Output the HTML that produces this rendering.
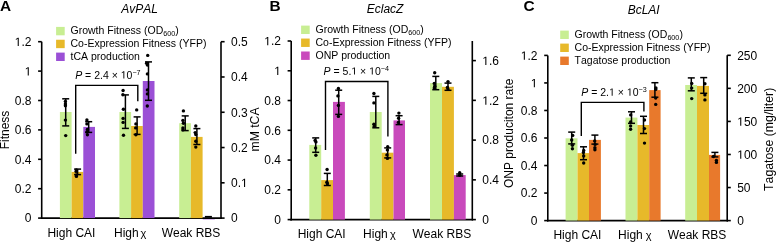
<!DOCTYPE html>
<html><head><meta charset="utf-8"><style>
html,body{margin:0;padding:0;background:#fff;}
svg{display:block;will-change:transform;}
text{font-family:"Liberation Sans",sans-serif;fill:#000;font-kerning:none;}
.one{fill-opacity:0;}
</style></head><body>
<svg width="776" height="242" viewBox="0 0 776 242">
<rect width="776" height="242" fill="#fff"/>
<line x1="41.70" y1="41.70" x2="41.70" y2="218.90" stroke="#000" stroke-width="1.6"/>
<rect x="202.8" y="218.6" width="12" height="1.2" fill="#9b50d6" opacity="0.45"/>
<line x1="221.00" y1="41.70" x2="221.00" y2="218.90" stroke="#000" stroke-width="1.6"/>
<line x1="40.90" y1="218.10" x2="221.80" y2="218.10" stroke="#000" stroke-width="1.6"/>
<line x1="38.10" y1="218.10" x2="41.70" y2="218.10" stroke="#000" stroke-width="1.6"/>
<text x="31.40" y="222.40" font-size="12" text-anchor="end" >0</text>
<line x1="38.10" y1="188.70" x2="41.70" y2="188.70" stroke="#000" stroke-width="1.6"/>
<text x="31.40" y="193.00" font-size="12" text-anchor="end" >0.2</text>
<line x1="38.10" y1="159.30" x2="41.70" y2="159.30" stroke="#000" stroke-width="1.6"/>
<text x="31.40" y="163.60" font-size="12" text-anchor="end" >0.4</text>
<line x1="38.10" y1="129.90" x2="41.70" y2="129.90" stroke="#000" stroke-width="1.6"/>
<text x="31.40" y="134.20" font-size="12" text-anchor="end" >0.6</text>
<line x1="38.10" y1="100.50" x2="41.70" y2="100.50" stroke="#000" stroke-width="1.6"/>
<text x="31.40" y="104.80" font-size="12" text-anchor="end" >0.8</text>
<line x1="38.10" y1="71.10" x2="41.70" y2="71.10" stroke="#000" stroke-width="1.6"/>
<text x="31.40" y="75.40" font-size="12" text-anchor="end" ><tspan class="one">1</tspan></text>
<line x1="38.10" y1="41.70" x2="41.70" y2="41.70" stroke="#000" stroke-width="1.6"/>
<text x="31.40" y="46.00" font-size="12" text-anchor="end" ><tspan class="one">1</tspan>.2</text>
<line x1="221.00" y1="218.10" x2="224.60" y2="218.10" stroke="#000" stroke-width="1.6"/>
<text x="231.00" y="222.40" font-size="12" text-anchor="start" >0</text>
<line x1="221.00" y1="182.82" x2="224.60" y2="182.82" stroke="#000" stroke-width="1.6"/>
<text x="231.00" y="187.12" font-size="12" text-anchor="start" >0.<tspan class="one">1</tspan></text>
<line x1="221.00" y1="147.54" x2="224.60" y2="147.54" stroke="#000" stroke-width="1.6"/>
<text x="231.00" y="151.84" font-size="12" text-anchor="start" >0.2</text>
<line x1="221.00" y1="112.26" x2="224.60" y2="112.26" stroke="#000" stroke-width="1.6"/>
<text x="231.00" y="116.56" font-size="12" text-anchor="start" >0.3</text>
<line x1="221.00" y1="76.98" x2="224.60" y2="76.98" stroke="#000" stroke-width="1.6"/>
<text x="231.00" y="81.28" font-size="12" text-anchor="start" >0.4</text>
<line x1="221.00" y1="41.70" x2="224.60" y2="41.70" stroke="#000" stroke-width="1.6"/>
<text x="231.00" y="46.00" font-size="12" text-anchor="start" >0.5</text>
<rect x="59.90" y="112.00" width="11.70" height="106.10" fill="#c8ee93"/>
<rect x="71.60" y="171.90" width="11.70" height="46.20" fill="#e7b92a"/>
<rect x="83.30" y="126.90" width="11.70" height="91.20" fill="#9b50d6"/>
<rect x="119.40" y="112.00" width="11.70" height="106.10" fill="#c8ee93"/>
<rect x="131.10" y="126.00" width="11.70" height="92.10" fill="#e7b92a"/>
<rect x="142.80" y="81.00" width="11.70" height="137.10" fill="#9b50d6"/>
<rect x="179.20" y="123.20" width="11.70" height="94.90" fill="#c8ee93"/>
<rect x="190.90" y="136.90" width="11.70" height="81.20" fill="#e7b92a"/>
<rect x="202.60" y="218.10" width="11.70" height="0.00" fill="#9b50d6"/>
<line x1="65.70" y1="98.80" x2="65.70" y2="125.90" stroke="#000" stroke-width="1.5"/>
<line x1="62.20" y1="98.80" x2="69.20" y2="98.80" stroke="#000" stroke-width="1.5"/>
<line x1="62.20" y1="125.90" x2="69.20" y2="125.90" stroke="#000" stroke-width="1.5"/>
<line x1="77.60" y1="169.10" x2="77.60" y2="174.60" stroke="#000" stroke-width="1.5"/>
<line x1="74.10" y1="169.10" x2="81.10" y2="169.10" stroke="#000" stroke-width="1.5"/>
<line x1="74.10" y1="174.60" x2="81.10" y2="174.60" stroke="#000" stroke-width="1.5"/>
<line x1="88.70" y1="121.70" x2="88.70" y2="132.40" stroke="#000" stroke-width="1.5"/>
<line x1="85.20" y1="121.70" x2="92.20" y2="121.70" stroke="#000" stroke-width="1.5"/>
<line x1="85.20" y1="132.40" x2="92.20" y2="132.40" stroke="#000" stroke-width="1.5"/>
<line x1="125.40" y1="94.90" x2="125.40" y2="128.40" stroke="#000" stroke-width="1.5"/>
<line x1="121.90" y1="94.90" x2="128.90" y2="94.90" stroke="#000" stroke-width="1.5"/>
<line x1="121.90" y1="128.40" x2="128.90" y2="128.40" stroke="#000" stroke-width="1.5"/>
<line x1="137.10" y1="116.90" x2="137.10" y2="134.40" stroke="#000" stroke-width="1.5"/>
<line x1="133.60" y1="116.90" x2="140.60" y2="116.90" stroke="#000" stroke-width="1.5"/>
<line x1="133.60" y1="134.40" x2="140.60" y2="134.40" stroke="#000" stroke-width="1.5"/>
<line x1="148.50" y1="61.90" x2="148.50" y2="100.30" stroke="#000" stroke-width="1.5"/>
<line x1="145.00" y1="61.90" x2="152.00" y2="61.90" stroke="#000" stroke-width="1.5"/>
<line x1="145.00" y1="100.30" x2="152.00" y2="100.30" stroke="#000" stroke-width="1.5"/>
<line x1="185.20" y1="115.90" x2="185.20" y2="130.60" stroke="#000" stroke-width="1.5"/>
<line x1="181.70" y1="115.90" x2="188.70" y2="115.90" stroke="#000" stroke-width="1.5"/>
<line x1="181.70" y1="130.60" x2="188.70" y2="130.60" stroke="#000" stroke-width="1.5"/>
<line x1="196.90" y1="128.60" x2="196.90" y2="144.50" stroke="#000" stroke-width="1.5"/>
<line x1="193.40" y1="128.60" x2="200.40" y2="128.60" stroke="#000" stroke-width="1.5"/>
<line x1="193.40" y1="144.50" x2="200.40" y2="144.50" stroke="#000" stroke-width="1.5"/>
<circle cx="65.40" cy="101.40" r="1.7" fill="#000"/>
<circle cx="65.40" cy="103.90" r="1.7" fill="#000"/>
<circle cx="65.40" cy="105.70" r="1.7" fill="#000"/>
<circle cx="65.40" cy="120.10" r="1.7" fill="#000"/>
<circle cx="65.70" cy="135.60" r="1.7" fill="#000"/>
<circle cx="76.40" cy="169.90" r="1.7" fill="#000"/>
<circle cx="76.10" cy="171.40" r="1.7" fill="#000"/>
<circle cx="76.40" cy="174.90" r="1.7" fill="#000"/>
<circle cx="76.40" cy="176.40" r="1.7" fill="#000"/>
<circle cx="86.90" cy="120.00" r="1.7" fill="#000"/>
<circle cx="86.90" cy="123.90" r="1.7" fill="#000"/>
<circle cx="87.40" cy="129.40" r="1.7" fill="#000"/>
<circle cx="86.90" cy="131.90" r="1.7" fill="#000"/>
<circle cx="87.40" cy="134.80" r="1.7" fill="#000"/>
<circle cx="123.10" cy="90.50" r="1.7" fill="#000"/>
<circle cx="122.90" cy="94.70" r="1.7" fill="#000"/>
<circle cx="123.40" cy="109.30" r="1.7" fill="#000"/>
<circle cx="123.10" cy="118.40" r="1.7" fill="#000"/>
<circle cx="123.10" cy="122.40" r="1.7" fill="#000"/>
<circle cx="123.50" cy="135.20" r="1.7" fill="#000"/>
<circle cx="136.70" cy="109.90" r="1.7" fill="#000"/>
<circle cx="135.90" cy="123.90" r="1.7" fill="#000"/>
<circle cx="135.70" cy="127.90" r="1.7" fill="#000"/>
<circle cx="135.90" cy="134.80" r="1.7" fill="#000"/>
<circle cx="147.70" cy="55.40" r="1.7" fill="#000"/>
<circle cx="146.60" cy="63.20" r="1.7" fill="#000"/>
<circle cx="147.40" cy="65.00" r="1.7" fill="#000"/>
<circle cx="147.40" cy="73.90" r="1.7" fill="#000"/>
<circle cx="147.40" cy="89.90" r="1.7" fill="#000"/>
<circle cx="147.40" cy="93.90" r="1.7" fill="#000"/>
<circle cx="147.30" cy="106.00" r="1.7" fill="#000"/>
<circle cx="183.40" cy="110.90" r="1.7" fill="#000"/>
<circle cx="182.90" cy="120.40" r="1.7" fill="#000"/>
<circle cx="183.40" cy="123.30" r="1.7" fill="#000"/>
<circle cx="182.90" cy="127.90" r="1.7" fill="#000"/>
<circle cx="182.90" cy="129.90" r="1.7" fill="#000"/>
<circle cx="195.80" cy="126.00" r="1.7" fill="#000"/>
<circle cx="195.20" cy="132.60" r="1.7" fill="#000"/>
<circle cx="195.80" cy="134.60" r="1.7" fill="#000"/>
<circle cx="195.80" cy="141.20" r="1.7" fill="#000"/>
<circle cx="195.80" cy="147.10" r="1.7" fill="#000"/>
<polyline points="75.7,153.8 75.7,85.4 137.8,85.4 137.8,101.3" fill="none" stroke="#000" stroke-width="1.4"/>
<text x="75.2" y="78.5" font-size="10.5"><tspan font-style="italic">P</tspan> = 2.4 × <tspan class="one">1</tspan>0<tspan font-size="7.2" dy="-3.6">−7</tspan></text>
<text x="71.40" y="236.90" font-size="12" text-anchor="middle" >High CAI</text>
<text x="114.00" y="236.90" font-size="12" text-anchor="start" >High</text>
<text x="140.50" y="236.90" font-size="11" text-anchor="start" >χ</text>
<text x="191.00" y="236.90" font-size="12" text-anchor="middle" >Weak RBS</text>
<text x="139.50" y="12.80" font-size="12" text-anchor="middle" font-style="italic">AvPAL</text>
<text x="0.00" y="10.70" font-size="15.4" text-anchor="start" font-weight="bold">A</text>
<rect x="56.10" y="26.90" width="8.60" height="8.40" fill="#c8ee93"/>
<text x="70.50" y="34.00" font-size="10.5">Growth Fitness (OD<tspan font-size="7.2" dy="2.4">600</tspan><tspan dy="-2.4">)</tspan></text>
<rect x="56.10" y="39.75" width="8.60" height="8.40" fill="#e7b92a"/>
<text x="70.50" y="46.85" font-size="10.5">Co-Expression Fitness (YFP)</text>
<rect x="56.10" y="52.60" width="8.60" height="8.40" fill="#9b50d6"/>
<text x="70.50" y="59.70" font-size="10.5">tCA production</text>
<text x="0" y="0" font-size="12" text-anchor="middle" transform="translate(8.50,130.00) rotate(-90)">Fitness</text>
<text x="0" y="0" font-size="12.2" text-anchor="middle" transform="translate(259.20,129.50) rotate(-90)">mM tCA</text>
<line x1="291.20" y1="41.00" x2="291.20" y2="220.40" stroke="#000" stroke-width="1.6"/>
<line x1="472.30" y1="41.00" x2="472.30" y2="220.40" stroke="#000" stroke-width="1.6"/>
<line x1="290.40" y1="219.60" x2="473.10" y2="219.60" stroke="#000" stroke-width="1.6"/>
<line x1="287.60" y1="219.60" x2="291.20" y2="219.60" stroke="#000" stroke-width="1.6"/>
<text x="280.90" y="223.90" font-size="12" text-anchor="end" >0</text>
<line x1="287.60" y1="189.83" x2="291.20" y2="189.83" stroke="#000" stroke-width="1.6"/>
<text x="280.90" y="194.13" font-size="12" text-anchor="end" >0.2</text>
<line x1="287.60" y1="160.07" x2="291.20" y2="160.07" stroke="#000" stroke-width="1.6"/>
<text x="280.90" y="164.37" font-size="12" text-anchor="end" >0.4</text>
<line x1="287.60" y1="130.30" x2="291.20" y2="130.30" stroke="#000" stroke-width="1.6"/>
<text x="280.90" y="134.60" font-size="12" text-anchor="end" >0.6</text>
<line x1="287.60" y1="100.53" x2="291.20" y2="100.53" stroke="#000" stroke-width="1.6"/>
<text x="280.90" y="104.83" font-size="12" text-anchor="end" >0.8</text>
<line x1="287.60" y1="70.77" x2="291.20" y2="70.77" stroke="#000" stroke-width="1.6"/>
<text x="280.90" y="75.07" font-size="12" text-anchor="end" ><tspan class="one">1</tspan></text>
<line x1="287.60" y1="41.00" x2="291.20" y2="41.00" stroke="#000" stroke-width="1.6"/>
<text x="280.90" y="45.30" font-size="12" text-anchor="end" ><tspan class="one">1</tspan>.2</text>
<line x1="472.30" y1="219.60" x2="475.90" y2="219.60" stroke="#000" stroke-width="1.6"/>
<text x="482.30" y="223.90" font-size="12" text-anchor="start" >0</text>
<line x1="472.30" y1="179.85" x2="475.90" y2="179.85" stroke="#000" stroke-width="1.6"/>
<text x="482.30" y="184.15" font-size="12" text-anchor="start" >0.4</text>
<line x1="472.30" y1="140.10" x2="475.90" y2="140.10" stroke="#000" stroke-width="1.6"/>
<text x="482.30" y="144.40" font-size="12" text-anchor="start" >0.8</text>
<line x1="472.30" y1="100.35" x2="475.90" y2="100.35" stroke="#000" stroke-width="1.6"/>
<text x="482.30" y="104.65" font-size="12" text-anchor="start" ><tspan class="one">1</tspan>.2</text>
<line x1="472.30" y1="60.60" x2="475.90" y2="60.60" stroke="#000" stroke-width="1.6"/>
<text x="482.30" y="64.90" font-size="12" text-anchor="start" ><tspan class="one">1</tspan>.6</text>
<rect x="309.30" y="144.90" width="11.90" height="74.70" fill="#c8ee93"/>
<rect x="321.20" y="180.10" width="11.80" height="39.50" fill="#e7b92a"/>
<rect x="333.00" y="101.90" width="11.90" height="117.70" fill="#c94abc"/>
<rect x="369.80" y="112.00" width="11.90" height="107.60" fill="#c8ee93"/>
<rect x="381.70" y="152.70" width="11.80" height="66.90" fill="#e7b92a"/>
<rect x="393.50" y="120.40" width="11.50" height="99.20" fill="#c94abc"/>
<rect x="430.00" y="83.10" width="12.00" height="136.50" fill="#c8ee93"/>
<rect x="442.00" y="86.80" width="11.90" height="132.80" fill="#e7b92a"/>
<rect x="453.90" y="175.10" width="11.80" height="44.50" fill="#c94abc"/>
<line x1="315.70" y1="137.90" x2="315.70" y2="152.30" stroke="#000" stroke-width="1.5"/>
<line x1="312.20" y1="137.90" x2="319.20" y2="137.90" stroke="#000" stroke-width="1.5"/>
<line x1="312.20" y1="152.30" x2="319.20" y2="152.30" stroke="#000" stroke-width="1.5"/>
<line x1="327.30" y1="173.40" x2="327.30" y2="185.50" stroke="#000" stroke-width="1.5"/>
<line x1="323.80" y1="173.40" x2="330.80" y2="173.40" stroke="#000" stroke-width="1.5"/>
<line x1="323.80" y1="185.50" x2="330.80" y2="185.50" stroke="#000" stroke-width="1.5"/>
<line x1="338.70" y1="90.20" x2="338.70" y2="114.40" stroke="#000" stroke-width="1.5"/>
<line x1="335.20" y1="90.20" x2="342.20" y2="90.20" stroke="#000" stroke-width="1.5"/>
<line x1="335.20" y1="114.40" x2="342.20" y2="114.40" stroke="#000" stroke-width="1.5"/>
<line x1="375.80" y1="96.40" x2="375.80" y2="127.80" stroke="#000" stroke-width="1.5"/>
<line x1="372.30" y1="96.40" x2="379.30" y2="96.40" stroke="#000" stroke-width="1.5"/>
<line x1="372.30" y1="127.80" x2="379.30" y2="127.80" stroke="#000" stroke-width="1.5"/>
<line x1="387.70" y1="147.90" x2="387.70" y2="157.90" stroke="#000" stroke-width="1.5"/>
<line x1="384.20" y1="147.90" x2="391.20" y2="147.90" stroke="#000" stroke-width="1.5"/>
<line x1="384.20" y1="157.90" x2="391.20" y2="157.90" stroke="#000" stroke-width="1.5"/>
<line x1="399.10" y1="115.70" x2="399.10" y2="124.60" stroke="#000" stroke-width="1.5"/>
<line x1="395.60" y1="115.70" x2="402.60" y2="115.70" stroke="#000" stroke-width="1.5"/>
<line x1="395.60" y1="124.60" x2="402.60" y2="124.60" stroke="#000" stroke-width="1.5"/>
<line x1="435.80" y1="76.40" x2="435.80" y2="89.70" stroke="#000" stroke-width="1.5"/>
<line x1="432.30" y1="76.40" x2="439.30" y2="76.40" stroke="#000" stroke-width="1.5"/>
<line x1="432.30" y1="89.70" x2="439.30" y2="89.70" stroke="#000" stroke-width="1.5"/>
<line x1="448.00" y1="83.10" x2="448.00" y2="90.30" stroke="#000" stroke-width="1.5"/>
<line x1="444.50" y1="83.10" x2="451.50" y2="83.10" stroke="#000" stroke-width="1.5"/>
<line x1="444.50" y1="90.30" x2="451.50" y2="90.30" stroke="#000" stroke-width="1.5"/>
<line x1="459.70" y1="174.00" x2="459.70" y2="176.00" stroke="#000" stroke-width="1.5"/>
<line x1="456.20" y1="174.00" x2="463.20" y2="174.00" stroke="#000" stroke-width="1.5"/>
<line x1="456.20" y1="176.00" x2="463.20" y2="176.00" stroke="#000" stroke-width="1.5"/>
<circle cx="315.10" cy="140.40" r="1.7" fill="#000"/>
<circle cx="315.90" cy="141.90" r="1.7" fill="#000"/>
<circle cx="315.60" cy="148.00" r="1.7" fill="#000"/>
<circle cx="315.90" cy="155.30" r="1.7" fill="#000"/>
<circle cx="327.10" cy="169.50" r="1.7" fill="#000"/>
<circle cx="326.90" cy="182.30" r="1.7" fill="#000"/>
<circle cx="327.40" cy="183.80" r="1.7" fill="#000"/>
<circle cx="338.40" cy="88.50" r="1.7" fill="#000"/>
<circle cx="337.90" cy="95.90" r="1.7" fill="#000"/>
<circle cx="338.40" cy="105.40" r="1.7" fill="#000"/>
<circle cx="338.40" cy="116.40" r="1.7" fill="#000"/>
<circle cx="373.90" cy="93.50" r="1.7" fill="#000"/>
<circle cx="373.90" cy="102.90" r="1.7" fill="#000"/>
<circle cx="373.90" cy="124.20" r="1.7" fill="#000"/>
<circle cx="374.20" cy="126.40" r="1.7" fill="#000"/>
<circle cx="387.70" cy="146.70" r="1.7" fill="#000"/>
<circle cx="387.40" cy="149.90" r="1.7" fill="#000"/>
<circle cx="386.90" cy="154.90" r="1.7" fill="#000"/>
<circle cx="387.40" cy="158.40" r="1.7" fill="#000"/>
<circle cx="398.90" cy="113.10" r="1.7" fill="#000"/>
<circle cx="398.60" cy="118.30" r="1.7" fill="#000"/>
<circle cx="398.40" cy="122.40" r="1.7" fill="#000"/>
<circle cx="434.70" cy="72.70" r="1.7" fill="#000"/>
<circle cx="434.30" cy="83.40" r="1.7" fill="#000"/>
<circle cx="434.70" cy="86.30" r="1.7" fill="#000"/>
<circle cx="434.30" cy="88.00" r="1.7" fill="#000"/>
<circle cx="448.00" cy="81.60" r="1.7" fill="#000"/>
<circle cx="447.40" cy="87.40" r="1.7" fill="#000"/>
<circle cx="448.00" cy="89.10" r="1.7" fill="#000"/>
<circle cx="459.70" cy="172.80" r="1.7" fill="#000"/>
<circle cx="459.70" cy="175.20" r="1.7" fill="#000"/>
<polyline points="325.5,149.9 325.5,81.5 387.9,81.5 387.9,136.4" fill="none" stroke="#000" stroke-width="1.4"/>
<text x="323.6" y="74.6" font-size="10.5"><tspan font-style="italic">P</tspan> = 5.<tspan class="one">1</tspan> × <tspan class="one">1</tspan>0<tspan font-size="7.2" dy="-3.6">−4</tspan></text>
<text x="321.70" y="238.30" font-size="12" text-anchor="middle" >High CAI</text>
<text x="363.10" y="238.30" font-size="12" text-anchor="start" >High</text>
<text x="390.00" y="238.30" font-size="11" text-anchor="start" >χ</text>
<text x="441.90" y="238.30" font-size="12" text-anchor="middle" >Weak RBS</text>
<text x="385.10" y="12.80" font-size="12" text-anchor="middle" font-style="italic">EclacZ</text>
<text x="269.50" y="11.00" font-size="15.4" text-anchor="start" font-weight="bold">B</text>
<rect x="301.10" y="25.60" width="8.60" height="8.40" fill="#c8ee93"/>
<text x="315.50" y="32.70" font-size="10.5">Growth Fitness (OD<tspan font-size="7.2" dy="2.4">600</tspan><tspan dy="-2.4">)</tspan></text>
<rect x="301.10" y="38.55" width="8.60" height="8.40" fill="#e7b92a"/>
<text x="315.50" y="45.65" font-size="10.5">Co-Expression Fitness (YFP)</text>
<rect x="301.10" y="51.50" width="8.60" height="8.40" fill="#c94abc"/>
<text x="315.50" y="58.60" font-size="10.5">ONP production</text>
<text x="0" y="0" font-size="12.0" text-anchor="middle" transform="translate(512.70,133.40) rotate(-90)">ONP produciton rate</text>
<line x1="547.80" y1="55.40" x2="547.80" y2="221.40" stroke="#000" stroke-width="1.6"/>
<line x1="727.20" y1="55.30" x2="727.20" y2="221.40" stroke="#000" stroke-width="1.6"/>
<line x1="547.00" y1="220.60" x2="728.00" y2="220.60" stroke="#000" stroke-width="1.6"/>
<line x1="544.20" y1="220.60" x2="547.80" y2="220.60" stroke="#000" stroke-width="1.6"/>
<text x="537.50" y="224.90" font-size="12" text-anchor="end" >0</text>
<line x1="544.20" y1="193.07" x2="547.80" y2="193.07" stroke="#000" stroke-width="1.6"/>
<text x="537.50" y="197.37" font-size="12" text-anchor="end" >0.2</text>
<line x1="544.20" y1="165.53" x2="547.80" y2="165.53" stroke="#000" stroke-width="1.6"/>
<text x="537.50" y="169.83" font-size="12" text-anchor="end" >0.4</text>
<line x1="544.20" y1="138.00" x2="547.80" y2="138.00" stroke="#000" stroke-width="1.6"/>
<text x="537.50" y="142.30" font-size="12" text-anchor="end" >0.6</text>
<line x1="544.20" y1="110.47" x2="547.80" y2="110.47" stroke="#000" stroke-width="1.6"/>
<text x="537.50" y="114.77" font-size="12" text-anchor="end" >0.8</text>
<line x1="544.20" y1="82.93" x2="547.80" y2="82.93" stroke="#000" stroke-width="1.6"/>
<text x="537.50" y="87.23" font-size="12" text-anchor="end" ><tspan class="one">1</tspan></text>
<line x1="544.20" y1="55.40" x2="547.80" y2="55.40" stroke="#000" stroke-width="1.6"/>
<text x="537.50" y="59.70" font-size="12" text-anchor="end" ><tspan class="one">1</tspan>.2</text>
<line x1="727.20" y1="220.60" x2="730.80" y2="220.60" stroke="#000" stroke-width="1.6"/>
<text x="737.20" y="224.90" font-size="12" text-anchor="start" >0</text>
<line x1="727.20" y1="187.54" x2="730.80" y2="187.54" stroke="#000" stroke-width="1.6"/>
<text x="737.20" y="191.84" font-size="12" text-anchor="start" >50</text>
<line x1="727.20" y1="154.48" x2="730.80" y2="154.48" stroke="#000" stroke-width="1.6"/>
<text x="737.20" y="158.78" font-size="12" text-anchor="start" ><tspan class="one">1</tspan>00</text>
<line x1="727.20" y1="121.42" x2="730.80" y2="121.42" stroke="#000" stroke-width="1.6"/>
<text x="737.20" y="125.72" font-size="12" text-anchor="start" ><tspan class="one">1</tspan>50</text>
<line x1="727.20" y1="88.36" x2="730.80" y2="88.36" stroke="#000" stroke-width="1.6"/>
<text x="737.20" y="92.66" font-size="12" text-anchor="start" >200</text>
<line x1="727.20" y1="55.30" x2="730.80" y2="55.30" stroke="#000" stroke-width="1.6"/>
<text x="737.20" y="59.60" font-size="12" text-anchor="start" >250</text>
<rect x="565.60" y="138.30" width="11.90" height="82.30" fill="#c8ee93"/>
<rect x="577.50" y="153.10" width="11.50" height="67.50" fill="#e7b92a"/>
<rect x="589.00" y="139.90" width="11.90" height="80.70" fill="#e8792c"/>
<rect x="625.50" y="117.60" width="11.90" height="103.00" fill="#c8ee93"/>
<rect x="637.40" y="125.00" width="11.80" height="95.60" fill="#e7b92a"/>
<rect x="649.20" y="90.10" width="11.40" height="130.50" fill="#e8792c"/>
<rect x="685.20" y="85.00" width="11.80" height="135.60" fill="#c8ee93"/>
<rect x="697.00" y="85.90" width="12.00" height="134.70" fill="#e7b92a"/>
<rect x="709.00" y="154.90" width="11.10" height="65.70" fill="#e8792c"/>
<line x1="571.70" y1="132.10" x2="571.70" y2="143.90" stroke="#000" stroke-width="1.5"/>
<line x1="568.20" y1="132.10" x2="575.20" y2="132.10" stroke="#000" stroke-width="1.5"/>
<line x1="568.20" y1="143.90" x2="575.20" y2="143.90" stroke="#000" stroke-width="1.5"/>
<line x1="583.50" y1="146.80" x2="583.50" y2="159.70" stroke="#000" stroke-width="1.5"/>
<line x1="580.00" y1="146.80" x2="587.00" y2="146.80" stroke="#000" stroke-width="1.5"/>
<line x1="580.00" y1="159.70" x2="587.00" y2="159.70" stroke="#000" stroke-width="1.5"/>
<line x1="594.90" y1="135.10" x2="594.90" y2="144.10" stroke="#000" stroke-width="1.5"/>
<line x1="591.40" y1="135.10" x2="598.40" y2="135.10" stroke="#000" stroke-width="1.5"/>
<line x1="591.40" y1="144.10" x2="598.40" y2="144.10" stroke="#000" stroke-width="1.5"/>
<line x1="631.50" y1="111.80" x2="631.50" y2="123.30" stroke="#000" stroke-width="1.5"/>
<line x1="628.00" y1="111.80" x2="635.00" y2="111.80" stroke="#000" stroke-width="1.5"/>
<line x1="628.00" y1="123.30" x2="635.00" y2="123.30" stroke="#000" stroke-width="1.5"/>
<line x1="643.50" y1="116.30" x2="643.50" y2="133.50" stroke="#000" stroke-width="1.5"/>
<line x1="640.00" y1="116.30" x2="647.00" y2="116.30" stroke="#000" stroke-width="1.5"/>
<line x1="640.00" y1="133.50" x2="647.00" y2="133.50" stroke="#000" stroke-width="1.5"/>
<line x1="654.90" y1="82.70" x2="654.90" y2="97.20" stroke="#000" stroke-width="1.5"/>
<line x1="651.40" y1="82.70" x2="658.40" y2="82.70" stroke="#000" stroke-width="1.5"/>
<line x1="651.40" y1="97.20" x2="658.40" y2="97.20" stroke="#000" stroke-width="1.5"/>
<line x1="691.30" y1="77.90" x2="691.30" y2="90.80" stroke="#000" stroke-width="1.5"/>
<line x1="687.80" y1="77.90" x2="694.80" y2="77.90" stroke="#000" stroke-width="1.5"/>
<line x1="687.80" y1="90.80" x2="694.80" y2="90.80" stroke="#000" stroke-width="1.5"/>
<line x1="703.70" y1="77.60" x2="703.70" y2="93.30" stroke="#000" stroke-width="1.5"/>
<line x1="700.20" y1="77.60" x2="707.20" y2="77.60" stroke="#000" stroke-width="1.5"/>
<line x1="700.20" y1="93.30" x2="707.20" y2="93.30" stroke="#000" stroke-width="1.5"/>
<line x1="714.90" y1="152.40" x2="714.90" y2="156.90" stroke="#000" stroke-width="1.5"/>
<line x1="711.40" y1="152.40" x2="718.40" y2="152.40" stroke="#000" stroke-width="1.5"/>
<line x1="711.40" y1="156.90" x2="718.40" y2="156.90" stroke="#000" stroke-width="1.5"/>
<circle cx="572.70" cy="135.40" r="1.7" fill="#000"/>
<circle cx="571.70" cy="140.00" r="1.7" fill="#000"/>
<circle cx="572.40" cy="145.30" r="1.7" fill="#000"/>
<circle cx="572.40" cy="148.80" r="1.7" fill="#000"/>
<circle cx="583.70" cy="150.40" r="1.7" fill="#000"/>
<circle cx="583.40" cy="152.40" r="1.7" fill="#000"/>
<circle cx="583.70" cy="155.90" r="1.7" fill="#000"/>
<circle cx="583.70" cy="163.00" r="1.7" fill="#000"/>
<circle cx="594.70" cy="140.90" r="1.7" fill="#000"/>
<circle cx="595.10" cy="144.40" r="1.7" fill="#000"/>
<circle cx="594.90" cy="147.80" r="1.7" fill="#000"/>
<circle cx="594.90" cy="149.80" r="1.7" fill="#000"/>
<circle cx="630.70" cy="114.90" r="1.7" fill="#000"/>
<circle cx="630.60" cy="122.00" r="1.7" fill="#000"/>
<circle cx="630.60" cy="125.90" r="1.7" fill="#000"/>
<circle cx="630.60" cy="129.20" r="1.7" fill="#000"/>
<circle cx="644.50" cy="120.00" r="1.7" fill="#000"/>
<circle cx="644.50" cy="128.60" r="1.7" fill="#000"/>
<circle cx="644.50" cy="143.10" r="1.7" fill="#000"/>
<circle cx="655.90" cy="87.90" r="1.7" fill="#000"/>
<circle cx="655.70" cy="89.40" r="1.7" fill="#000"/>
<circle cx="655.70" cy="98.10" r="1.7" fill="#000"/>
<circle cx="655.70" cy="104.40" r="1.7" fill="#000"/>
<circle cx="691.70" cy="83.40" r="1.7" fill="#000"/>
<circle cx="691.70" cy="88.10" r="1.7" fill="#000"/>
<circle cx="691.70" cy="98.60" r="1.7" fill="#000"/>
<circle cx="704.90" cy="83.80" r="1.7" fill="#000"/>
<circle cx="704.90" cy="94.90" r="1.7" fill="#000"/>
<circle cx="704.90" cy="99.90" r="1.7" fill="#000"/>
<circle cx="713.50" cy="156.50" r="1.7" fill="#000"/>
<circle cx="716.40" cy="160.40" r="1.7" fill="#000"/>
<circle cx="716.40" cy="162.40" r="1.7" fill="#000"/>
<polyline points="581.3,135.9 581.3,102.4 643.9,102.4 643.9,111.4" fill="none" stroke="#000" stroke-width="1.4"/>
<text x="581.3" y="95.7" font-size="10.5"><tspan font-style="italic">P</tspan> = 2.<tspan class="one">1</tspan> × <tspan class="one">1</tspan>0<tspan font-size="7.2" dy="-3.6">−3</tspan></text>
<text x="577.40" y="239.10" font-size="12" text-anchor="middle" >High CAI</text>
<text x="618.10" y="239.10" font-size="12" text-anchor="start" >High</text>
<text x="645.80" y="239.10" font-size="11" text-anchor="start" >χ</text>
<text x="697.00" y="239.10" font-size="12" text-anchor="middle" >Weak RBS</text>
<text x="643.70" y="13.90" font-size="12" text-anchor="middle" font-style="italic">BcLAI</text>
<text x="523.60" y="11.40" font-size="15.4" text-anchor="start" font-weight="bold">C</text>
<rect x="560.20" y="30.60" width="8.60" height="8.40" fill="#c8ee93"/>
<text x="574.60" y="37.70" font-size="10.5">Growth Fitness (OD<tspan font-size="7.2" dy="2.4">600</tspan><tspan dy="-2.4">)</tspan></text>
<rect x="560.20" y="43.60" width="8.60" height="8.40" fill="#e7b92a"/>
<text x="574.60" y="50.70" font-size="10.5">Co-Expression Fitness (YFP)</text>
<rect x="560.20" y="56.60" width="8.60" height="8.40" fill="#e8792c"/>
<text x="574.60" y="63.70" font-size="10.5">Tagatose production</text>
<text x="0" y="0" font-size="12.3" text-anchor="middle" transform="translate(773.40,139.35) rotate(-90)">Tagatose (mg/liter)</text>
<rect x="204.9" y="215.9" width="7" height="1.8" fill="#000"/>
<path d="M515,0L515,1237L197,1010L197,1180L530,1409L696,1409L696,0Z" transform="translate(24.712,75.400) scale(0.005859,-0.005859)"/>
<path d="M515,0L515,1237L197,1010L197,1180L530,1409L696,1409L696,0Z" transform="translate(14.697,46.000) scale(0.005859,-0.005859)"/>
<path d="M515,0L515,1237L197,1010L197,1180L530,1409L696,1409L696,0Z" transform="translate(241.016,187.120) scale(0.005859,-0.005859)"/>
<path d="M515,0L515,1237L197,1010L197,1180L530,1409L696,1409L696,0Z" transform="translate(120.747,78.500) scale(0.005127,-0.005127)"/>
<path d="M515,0L515,1237L197,1010L197,1180L530,1409L696,1409L696,0Z" transform="translate(274.212,75.070) scale(0.005859,-0.005859)"/>
<path d="M515,0L515,1237L197,1010L197,1180L530,1409L696,1409L696,0Z" transform="translate(264.197,45.300) scale(0.005859,-0.005859)"/>
<path d="M515,0L515,1237L197,1010L197,1180L530,1409L696,1409L696,0Z" transform="translate(482.300,104.650) scale(0.005859,-0.005859)"/>
<path d="M515,0L515,1237L197,1010L197,1180L530,1409L696,1409L696,0Z" transform="translate(482.300,64.900) scale(0.005859,-0.005859)"/>
<path d="M515,0L515,1237L197,1010L197,1180L530,1409L696,1409L696,0Z" transform="translate(351.350,74.600) scale(0.005127,-0.005127)"/>
<path d="M515,0L515,1237L197,1010L197,1180L530,1409L696,1409L696,0Z" transform="translate(369.163,74.600) scale(0.005127,-0.005127)"/>
<path d="M515,0L515,1237L197,1010L197,1180L530,1409L696,1409L696,0Z" transform="translate(530.812,87.230) scale(0.005859,-0.005859)"/>
<path d="M515,0L515,1237L197,1010L197,1180L530,1409L696,1409L696,0Z" transform="translate(520.797,59.700) scale(0.005859,-0.005859)"/>
<path d="M515,0L515,1237L197,1010L197,1180L530,1409L696,1409L696,0Z" transform="translate(737.200,158.780) scale(0.005859,-0.005859)"/>
<path d="M515,0L515,1237L197,1010L197,1180L530,1409L696,1409L696,0Z" transform="translate(737.200,125.720) scale(0.005859,-0.005859)"/>
<path d="M515,0L515,1237L197,1010L197,1180L530,1409L696,1409L696,0Z" transform="translate(609.050,95.700) scale(0.005127,-0.005127)"/>
<path d="M515,0L515,1237L197,1010L197,1180L530,1409L696,1409L696,0Z" transform="translate(626.862,95.700) scale(0.005127,-0.005127)"/>
</svg>
</body></html>
